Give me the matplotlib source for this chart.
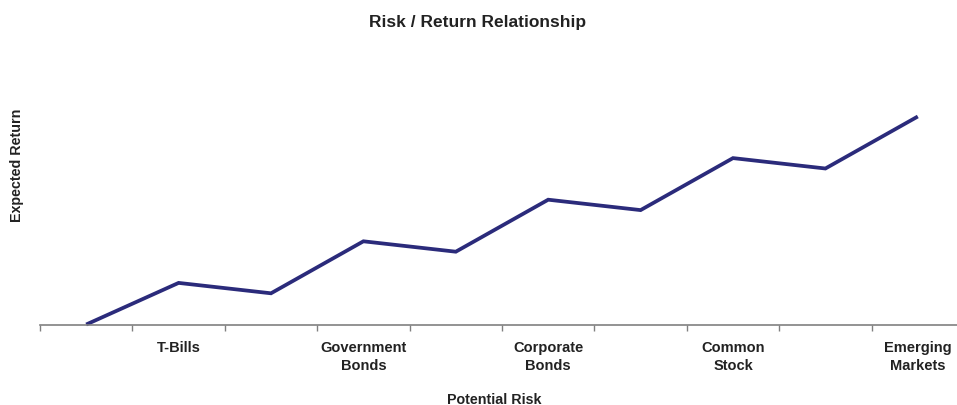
import matplotlib
matplotlib.use("Agg")
import matplotlib.pyplot as plt
import numpy as np

categories = ["", "T-Bills", "", "Government\nBonds", "", "Corporate\nBonds", "", "Common\nStock", "", "Emerging\nMarkets"]
returns = [0, 4, 3, 8, 7, 12, 11, 16, 15, 20]

plt.rcParams['font.family'] = ['Liberation Sans', 'DejaVu Sans']

W, H = 957, 406
fig = plt.figure(figsize=(W/100, H/100), dpi=100)
ax = fig.add_axes([40/W, (H-325.5)/H, 924/W, 260/H])

x = np.arange(len(returns))
ax.plot(x, returns, color='#2b2b7b', linewidth=2.7, solid_capstyle='butt', solid_joinstyle='miter', clip_on=False)
ax.set_xlim(-0.5, len(returns)-0.5)
ax.set_ylim(0, 25)

for s in ['top', 'right', 'left']:
    ax.spines[s].set_visible(False)
ax.spines['bottom'].set_color('#808080')
ax.spines['bottom'].set_linewidth(1.2)
ax.set_yticks([])

ax.set_xticks(np.arange(-0.5, len(returns), 1.0))
ax.set_xticklabels([])
ax.tick_params(axis='x', which='major', direction='out', length=4, width=1, color='#808080')
ax.set_xticks(x, minor=True)
ax.set_xticklabels(categories, minor=True, fontsize=10.5, fontweight='bold', color='#222222', linespacing=1.4)
ax.tick_params(axis='x', which='minor', length=0, pad=11)

fig.text(494/W, 1 - 400/H, "Potential Risk", ha='center', va='center', fontsize=10.3, fontweight='bold', color='#222222')
fig.text(17/W, 1 - 165/H, "Expected Return", ha='center', va='center', rotation=90, fontsize=10.3, fontweight='bold', color='#222222')
fig.text(478/W, 1 - 23/H, "Risk / Return Relationship", ha='center', va='center', fontsize=12.5, fontweight='bold', color='#222222')

fig.savefig("out.png", dpi=100)
